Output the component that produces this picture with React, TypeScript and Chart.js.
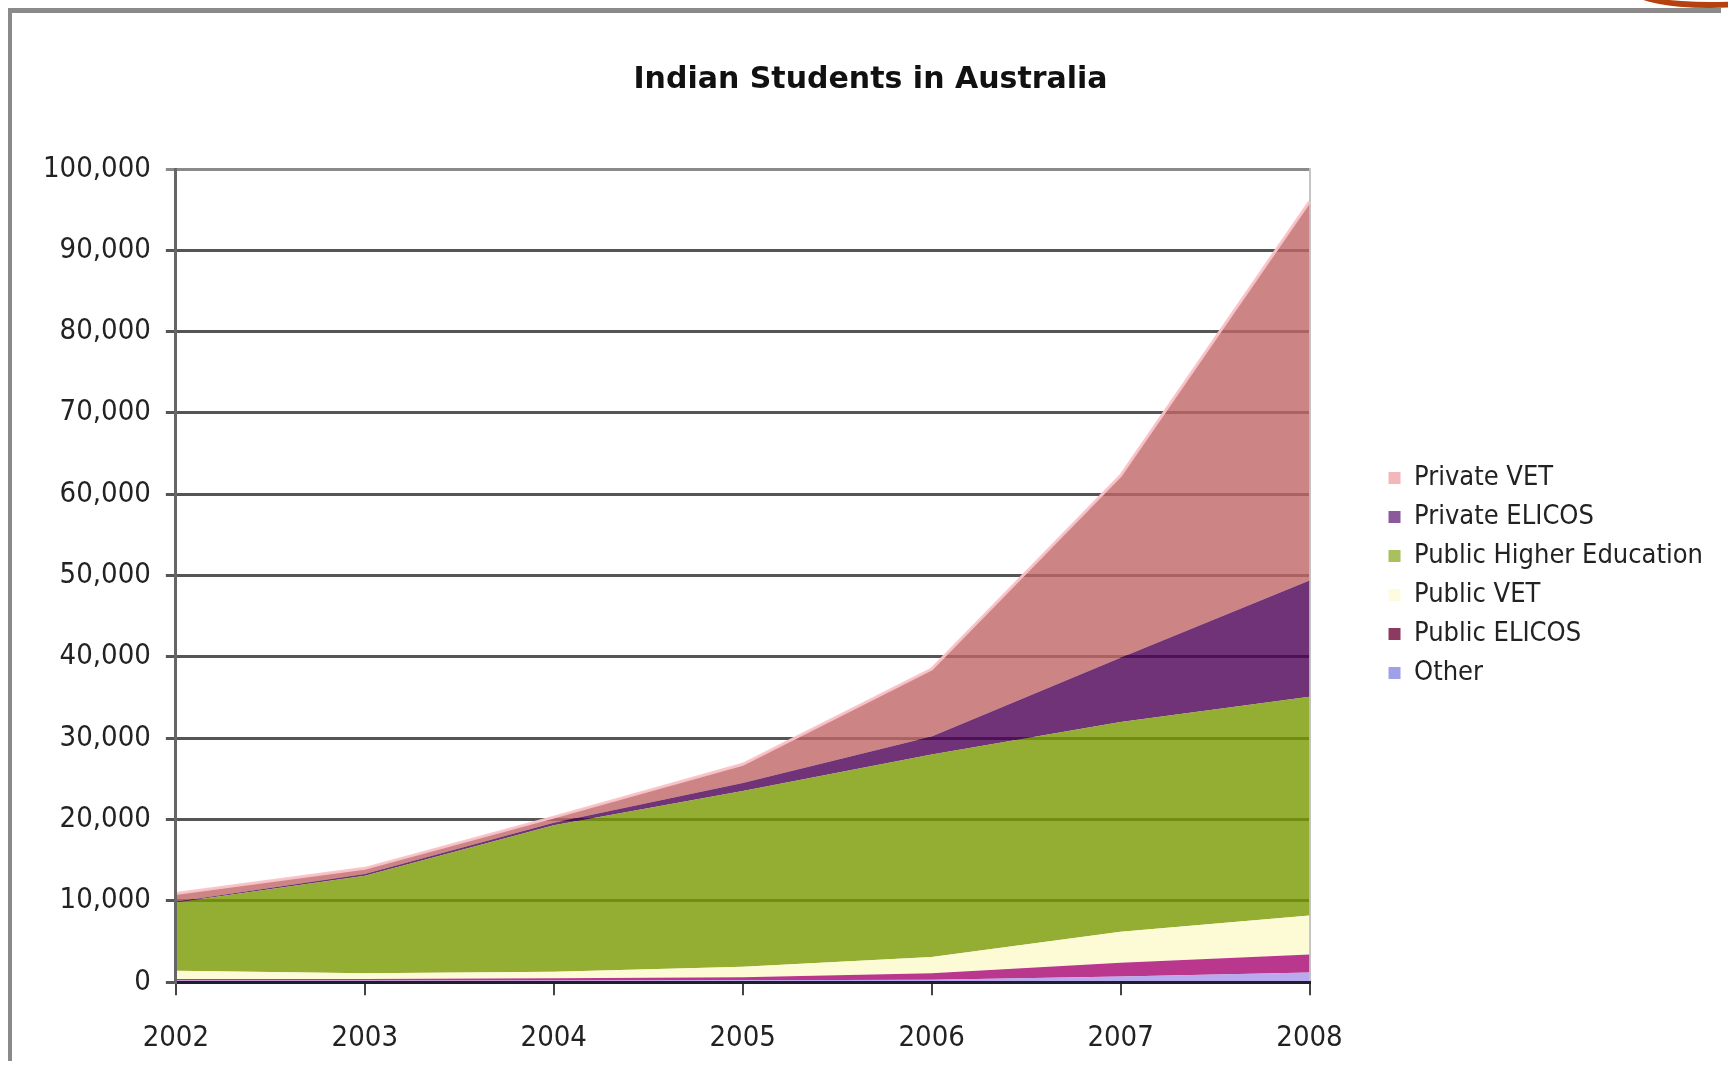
import React, { useEffect, useRef } from 'react';
import { Chart, registerables } from 'chart.js';

Chart.register(...registerables);

// ---- data (stacked, bottom to top) ----
const years = ['2002', '2003', '2004', '2005', '2006', '2007', '2008'];
const seriesNames = ['Other', 'Public ELICOS', 'Public VET', 'Public Higher Education', 'Private ELICOS', 'Private VET'];
const other = [200, 200, 200, 250, 300, 700, 1200];
const publicElicos = [200, 200, 300, 350, 800, 1700, 2200];
const publicVet = [1000, 700, 800, 1300, 2000, 3800, 4800];
const publicHigherEd = [8400, 12000, 18000, 21600, 24900, 25800, 26900];
const privateElicos = [100, 200, 300, 1000, 2200, 7900, 14300];
const privateVet = [1000, 700, 700, 2300, 8300, 22400, 46600];
const seriesValues = [other, publicElicos, publicVet, publicHigherEd, privateElicos, privateVet];

const yMax = 100000;
const yStep = 10000;

// ---- styles ----
const fillColors = [
  'rgba(167,149,236,0.8)',
  'rgba(167,5,111,0.8)',
  'rgba(252,250,204,0.8)',
  'rgba(121,154,0,0.8)',
  'rgba(76,0,86,0.8)',
  'rgba(191,101,101,0.8)',
];
const legendColors = ['#a0a0e8', '#8c3a60', '#fdfbe0', '#a8c060', '#8a5a9c', '#f2b6bb'];
const FONT = "'DejaVu Sans Condensed', 'DejaVu Sans', sans-serif";

export default function App() {
  const ref = useRef<HTMLCanvasElement | null>(null);

  useEffect(() => {
    if (!ref.current) return;
    const datasets = seriesNames.map((name, i) => ({
      label: name,
      data: seriesValues[i],
      backgroundColor: fillColors[i],
      borderColor: i === seriesNames.length - 1 ? 'rgba(250,195,200,0.95)' : 'rgba(0,0,0,0)',
      borderWidth: i === seriesNames.length - 1 ? 3 : 0,
      fill: i === 0 ? 'origin' : '-1',
      pointRadius: 0,
      tension: 0,
    }));

    const chart = new Chart(ref.current, {
      type: 'line',
      data: { labels: years, datasets },
      options: {
        responsive: false,
        animation: false,
        layout: { padding: { left: 16, right: 9, top: 0, bottom: -15 } },
        plugins: {
          title: {
            display: true,
            text: 'Indian Students in Australia',
            color: '#111',
            font: { family: "'DejaVu Sans', sans-serif", size: 30, weight: 'bold' },
            padding: { top: 49, bottom: 71 },
          },
          legend: {
            position: 'right',
            fullSize: false,
            reverse: true,
            maxWidth: 420,
            labels: {
              boxWidth: 12,
              boxHeight: 12,
              padding: 12,
              color: '#222',
              font: { family: FONT, size: 27 },
              generateLabels: (c: any) => {
                const items = Chart.defaults.plugins.legend.labels.generateLabels(c);
                return items.map((it: any) => ({
                  ...it,
                  fillStyle: legendColors[it.datasetIndex],
                  strokeStyle: legendColors[it.datasetIndex],
                  lineWidth: 0,
                }));
              },
            },
          },
          tooltip: { enabled: false },
        },
        scales: {
          x: {
            type: 'category',
            offset: false,
            grid: { display: true, drawOnChartArea: false, drawTicks: true, tickLength: 13, color: '#444', lineWidth: 2 },
            border: { display: true, color: '#1e1e2e', width: 3, z: 1 },
            ticks: { color: '#222', font: { family: FONT, size: 29 }, padding: 26, maxRotation: 0 },
          },
          y: {
            type: 'linear',
            stacked: true,
            min: 0,
            max: yMax,
            grid: {
              color: (ctx: any) => (ctx.tick && ctx.tick.value === yMax ? '#8a8a8a' : '#555'),
              lineWidth: 3,
              tickLength: 10,
            },
            border: { display: true, color: '#666', width: 3, z: 1 },
            ticks: {
              stepSize: yStep,
              color: '#222',
              padding: 15,
              font: { family: FONT, size: 29 },
              callback: (v: any) => Number(v).toLocaleString('en-US'),
            },
          },
          y2: {
            type: 'linear',
            position: 'right',
            display: true,
            grid: { display: false },
            ticks: { display: false },
            border: { display: true, color: '#c4c4c4', width: 2 },
            afterFit: (s: any) => {
              s.width = 67;
            },
          },
        },
      } as any,
    });
    return () => chart.destroy();
  }, []);

  return (
    <>
      <div
        style={{
          position: 'absolute',
          left: 1529,
          top: 0,
          width: 199,
          height: 9,
          overflow: 'hidden',
        }}
      >
        <div
          style={{
            position: 'absolute',
            left: 1710 - 80 - 1529,
            top: -10 - 18,
            width: 160,
            height: 36,
            borderRadius: '50%',
            border: '6px solid #b5410e',
            boxSizing: 'border-box',
          }}
        />
      </div>
      <div
        style={{
          position: 'relative',
          width: 1716,
          height: 1061,
          marginBottom: -8,
          boxSizing: 'border-box',
          borderTop: '5px solid #8a8a8a',
          borderLeft: '4px solid #8a8a8a',
          borderRight: '2px solid #dcdcdc',
          borderBottom: '2px solid #a8a8a8',
          background: '#fff',
        }}
      >
        <canvas ref={ref} width={1710} height={1054} style={{ display: 'block' }} />
      </div>
    </>
  );
}
